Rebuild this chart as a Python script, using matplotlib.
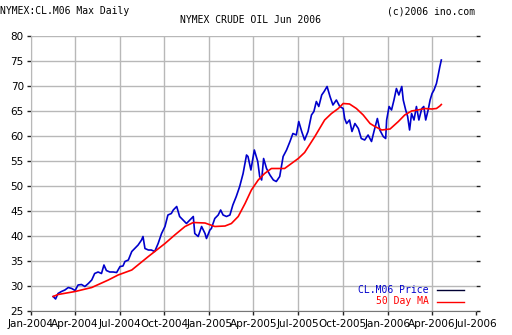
import matplotlib
matplotlib.use("Agg")
import matplotlib.pyplot as plt
import matplotlib.dates as mdates
from matplotlib.lines import Line2D
import pandas as pd

price_dates = [
    "2004-02-16", "2004-02-21", "2004-02-26", "2004-03-04", "2004-03-11", "2004-03-18",
    "2004-03-25", "2004-04-01", "2004-04-07", "2004-04-14", "2004-04-21", "2004-04-28",
    "2004-05-05", "2004-05-11", "2004-05-18", "2004-05-25", "2004-05-30", "2004-06-04",
    "2004-06-11", "2004-06-18", "2004-06-25", "2004-07-02", "2004-07-08", "2004-07-12",
    "2004-07-19", "2004-07-26", "2004-08-01", "2004-08-08", "2004-08-15", "2004-08-18",
    "2004-08-22", "2004-08-29", "2004-09-04", "2004-09-11", "2004-09-18", "2004-09-25",
    "2004-10-02", "2004-10-08", "2004-10-15", "2004-10-19", "2004-10-26", "2004-11-01",
    "2004-11-08", "2004-11-15", "2004-11-22", "2004-11-29", "2004-12-02", "2004-12-09",
    "2004-12-16", "2004-12-23", "2004-12-26", "2005-01-02", "2005-01-05", "2005-01-12",
    "2005-01-19", "2005-01-24", "2005-01-29", "2005-02-05", "2005-02-12", "2005-02-18",
    "2005-02-25", "2005-03-04", "2005-03-11", "2005-03-18", "2005-03-21", "2005-03-27",
    "2005-04-03", "2005-04-10", "2005-04-14", "2005-04-18", "2005-04-22", "2005-04-28",
    "2005-05-05", "2005-05-12", "2005-05-18", "2005-05-25", "2005-06-01", "2005-06-08",
    "2005-06-15", "2005-06-21", "2005-06-28", "2005-07-03", "2005-07-09", "2005-07-15",
    "2005-07-22", "2005-07-29", "2005-08-03", "2005-08-08", "2005-08-13", "2005-08-19",
    "2005-08-24", "2005-08-30", "2005-09-05", "2005-09-11", "2005-09-18", "2005-09-25",
    "2005-10-02", "2005-10-05", "2005-10-09", "2005-10-15", "2005-10-20", "2005-10-26",
    "2005-11-02", "2005-11-08", "2005-11-15", "2005-11-22", "2005-11-29", "2005-12-04",
    "2005-12-11", "2005-12-16", "2005-12-23", "2005-12-28", "2005-12-30", "2006-01-04",
    "2006-01-09", "2006-01-14", "2006-01-19", "2006-01-24", "2006-01-30", "2006-02-02",
    "2006-02-07", "2006-02-11", "2006-02-15", "2006-02-19", "2006-02-24", "2006-03-01",
    "2006-03-06", "2006-03-12", "2006-03-16", "2006-03-20", "2006-03-25", "2006-03-29",
    "2006-04-02", "2006-04-06", "2006-04-11", "2006-04-14", "2006-04-18", "2006-04-21",
]
price_values = [
    27.9, 27.4, 28.5, 28.9, 29.2, 29.7,
    29.5, 29.1, 30.2, 30.3, 29.9, 30.5,
    31.2, 32.5, 32.8, 32.5, 34.2, 33.1,
    32.8, 32.8, 32.7, 33.9, 34.0, 34.9,
    35.2, 36.9, 37.5, 38.2, 39.2, 39.9,
    37.5, 37.2, 37.2, 36.9, 38.5, 40.5,
    41.9, 44.2, 44.5, 45.2, 45.9, 43.9,
    43.2, 42.5, 43.2, 43.9, 40.5, 39.9,
    41.9, 40.5, 39.5, 41.2, 41.5, 43.5,
    44.2, 45.2, 44.2, 43.9, 44.2, 46.2,
    47.9, 49.9, 52.5, 56.2, 55.9, 53.2,
    57.2, 54.9, 51.9, 51.2, 55.5, 53.5,
    52.2, 51.2, 50.9, 51.9, 55.9, 57.2,
    58.9, 60.5, 60.2, 62.9, 60.9, 59.2,
    60.9, 64.2, 64.9, 66.9, 65.9, 68.2,
    68.9, 69.9, 67.9, 66.2, 67.2, 65.9,
    65.5, 63.5, 62.5, 63.2, 60.9, 62.5,
    61.5, 59.5, 59.2, 60.2, 58.9, 60.9,
    63.5, 61.2, 59.9, 59.5, 63.2, 65.9,
    65.2, 67.2, 69.5, 68.2, 69.9, 67.2,
    65.2, 63.9, 61.2, 64.5, 63.2, 65.9,
    63.2, 65.5, 65.9, 63.2, 65.2, 67.2,
    68.5, 69.2, 70.5, 71.9, 73.9, 75.2,
]

ma_dates = [
    "2004-02-16", "2004-02-26", "2004-04-01", "2004-05-05", "2004-06-08", "2004-06-28",
    "2004-07-12", "2004-07-26", "2004-08-29", "2004-10-02", "2004-10-22", "2004-11-12",
    "2004-11-29", "2004-12-23", "2005-01-12", "2005-02-02", "2005-02-15", "2005-03-01",
    "2005-03-15", "2005-03-28", "2005-04-11", "2005-04-24", "2005-05-08", "2005-06-04",
    "2005-06-18", "2005-07-02", "2005-07-15", "2005-08-05", "2005-08-25", "2005-09-08",
    "2005-09-22", "2005-10-02", "2005-10-15", "2005-10-29", "2005-11-12", "2005-11-26",
    "2005-12-06", "2005-12-20", "2006-01-06", "2006-01-23", "2006-02-05", "2006-02-19",
    "2006-03-04", "2006-03-18", "2006-04-01", "2006-04-11", "2006-04-18", "2006-04-21",
]
ma_values = [
    27.9, 28.3, 28.9, 29.7, 31.2, 32.2,
    32.7, 33.2, 35.9, 38.5, 40.2, 41.9,
    42.7, 42.6, 41.9, 42.0, 42.5, 43.9,
    46.5, 49.2, 51.2, 52.5, 53.5, 53.5,
    54.5, 55.5, 56.7, 59.9, 63.2, 64.5,
    65.5, 66.5, 66.4, 65.5, 64.2, 62.5,
    61.9, 61.2, 61.4, 62.9, 64.2, 65.0,
    65.2, 65.5, 65.4, 65.5, 66.0, 66.3,
]

x_ticks = ["2004-01-01", "2004-04-01", "2004-07-01", "2004-10-01", "2005-01-01",
           "2005-04-01", "2005-07-01", "2005-10-01", "2006-01-01", "2006-04-01",
           "2006-07-01"]
y_ticks = [25, 30, 35, 40, 45, 50, 55, 60, 65, 70, 75, 80]

W, H = 512, 335
fig = plt.figure(figsize=(W / 100, H / 100), dpi=100)
fig.patch.set_facecolor("white")
ax = fig.add_axes([30.7 / W, 1 - 311 / H, (476 - 30.7) / W, (311 - 36) / H])

pd_price = pd.to_datetime(price_dates)
pd_ma = pd.to_datetime(ma_dates)
ax.plot(pd_price, price_values, color="#0000cc", lw=1.2, zorder=3)
ax.plot(pd_ma, ma_values, color="#ff0000", lw=1.2, zorder=4)

xt = pd.to_datetime(x_ticks)
ax.set_xlim(xt[0], xt[-1])
ax.set_ylim(25, 80)
ax.set_xticks(xt)
ax.xaxis.set_major_formatter(mdates.DateFormatter("%b-%Y"))
ax.set_yticks(y_ticks)

ax.grid(True, color="#b8b8b8", lw=1.0)
ax.set_axisbelow(True)
for s in ["top", "right"]:
    ax.spines[s].set_visible(False)
ax.spines["left"].set_color("#b8b8b8")
ax.spines["bottom"].set_color("#777777")
ax.tick_params(axis="both", colors="#222222", length=3, width=1, labelsize=7.5, pad=2)
ax.tick_params(axis="y", right=True, direction="out")
ax.tick_params(axis="x", pad=3)
for lab in ax.get_xticklabels() + ax.get_yticklabels():
    lab.set_color("black")
    lab.set_fontfamily("DejaVu Sans")

fig.canvas.draw()
ticks = ax.xaxis.get_major_ticks()
ticks[-1].gridline.set_visible(False)

mono = "DejaVu Sans Mono"
fig.text(0 / W, 1 - 11 / H, "NYMEX:CL.M06 Max Daily", fontsize=7, family=mono,
         ha="left", va="center")
fig.text(475 / W, 1 - 11 / H, "(c)2006 ino.com", fontsize=7, family=mono,
         ha="right", va="center")
fig.text(251 / W, 1 - 20 / H, "NYMEX CRUDE OIL Jun 2006", fontsize=7, family=mono,
         ha="center", va="center")

fig.text(429 / W, 1 - 290 / H, "CL.M06 Price", fontsize=7, family=mono,
         ha="right", va="center", color="#0000cc")
fig.text(429 / W, 1 - 301.5 / H, "50 Day MA", fontsize=7, family=mono,
         ha="right", va="center", color="#ff0000")
fig.add_artist(Line2D([437 / W, 464 / W], [1 - 290 / H, 1 - 290 / H],
                      transform=fig.transFigure, color="#000033", lw=1))
fig.add_artist(Line2D([437 / W, 464 / W], [1 - 301.5 / H, 1 - 301.5 / H],
                      transform=fig.transFigure, color="#ff0000", lw=1))

fig.savefig("out.png", dpi=100, facecolor="white")
